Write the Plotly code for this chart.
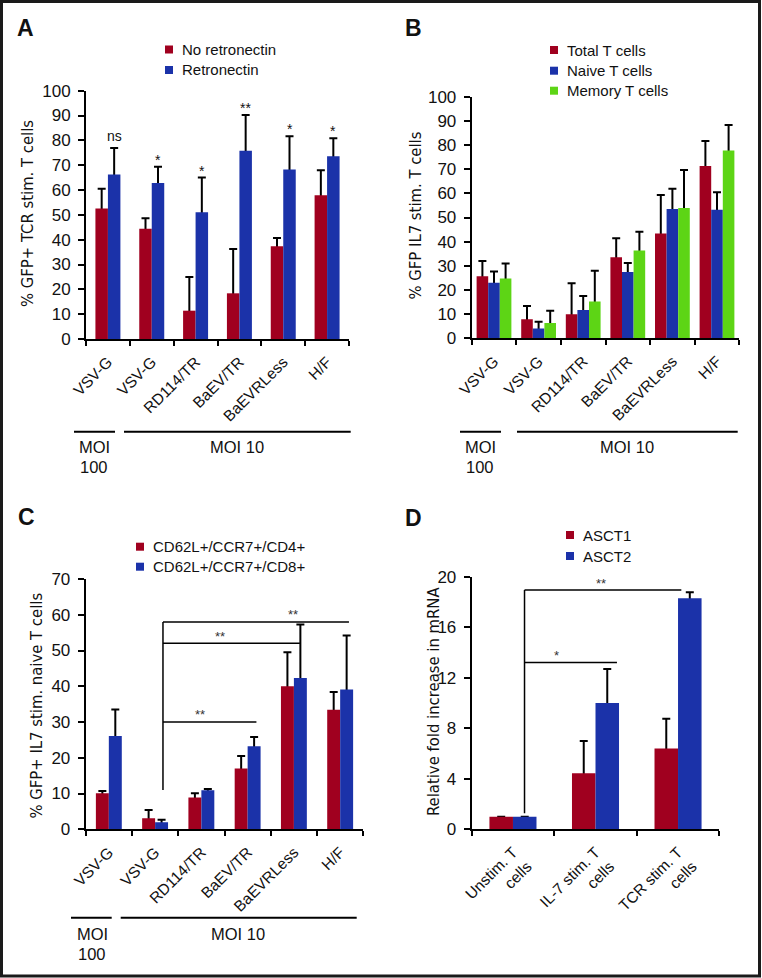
import plotly.graph_objects as go

W, H = 762, 978


def px(x):
    return x / W


def py(y):
    return 1 - y / H


RED, BLUE, GREEN = "#A0001F", "#1B32A9", "#5DD515"
TEXT = "#111111"
FONT = "Liberation Sans, Arial, Helvetica, sans-serif"
NARROW = "Liberation Sans Narrow, Arial Narrow, DejaVu Sans Condensed, sans-serif"

# ---------------- data ----------------
vector_labels = ["VSV-G", "VSV-G", "RD114/TR", "BaEV/TR", "BaEVRLess", "H/F"]

# Panel A: % GFP+ TCR stim. T cells
a_no_retro = [52.6, 44.4, 11.4, 18.4, 37.4, 57.9]
a_no_retro_sd = [7.9, 4.2, 13.6, 17.8, 3.3, 10.1]
a_retro = [66.3, 62.8, 51.0, 75.8, 68.3, 73.6]
a_retro_sd = [10.6, 6.6, 14.0, 14.4, 13.4, 7.2]
a_sig = ["ns", "*", "*", "**", "*", "*"]

# Panel B: % GFP IL7 stim. T cells
b_total = [25.7, 7.9, 10.0, 33.5, 43.4, 71.3]
b_total_sd = [6.3, 5.5, 12.8, 7.9, 15.9, 10.4]
b_naive = [23.0, 4.1, 11.7, 27.4, 53.5, 53.2]
b_naive_sd = [4.6, 2.8, 5.8, 3.8, 8.4, 7.2]
b_memory = [24.8, 6.3, 15.2, 36.3, 53.9, 77.7]
b_memory_sd = [6.2, 5.1, 12.8, 7.8, 15.8, 10.6]

# Panel C: % GFP+ IL7 stim. naive T cells
c_cd4 = [10.1, 3.1, 8.9, 17.0, 40.0, 33.4]
c_cd4_sd = [0.6, 2.3, 1.2, 3.5, 9.5, 5.0]
c_cd8 = [26.1, 2.0, 10.9, 23.2, 42.3, 39.1]
c_cd8_sd = [7.4, 0.7, 0.4, 2.6, 15.0, 15.1]

# Panel D: relative fold increase in mRNA
d_labels = ["Unstim. T<br>cells", "IL-7 stim. T<br>cells", "TCR stim. T<br>cells"]
d_asct1 = [1.0, 4.43, 6.4]
d_asct1_sd = [None, 2.57, 2.36]
d_asct2 = [1.0, 10.0, 18.3]
d_asct2_sd = [None, 2.7, 0.46]

fig = go.Figure()


def add_panel(xa, ya, series, width):
    n = len(series[0][1])
    xs = list(range(n))
    # error bars first (transparent bars), so the coloured bars hide the lower whisker
    for name, vals, sd, color, off in series:
        minus = [v if s is not None else None for v, s in zip(vals, sd)]
        fig.add_trace(go.Bar(
            x=xs, y=vals, width=width, offset=off, xaxis=xa, yaxis=ya,
            marker=dict(color="rgba(0,0,0,0)", line=dict(width=0)),
            error_y=dict(type="data", symmetric=False, array=sd, arrayminus=minus,
                         color="black", thickness=2, width=4),
            showlegend=False, hoverinfo="skip", name=name + " (SD)"))
    for name, vals, sd, color, off in series:
        fig.add_trace(go.Bar(
            x=xs, y=vals, width=width, offset=off, xaxis=xa, yaxis=ya,
            marker=dict(color=color, line=dict(width=0)),
            showlegend=False, name=name))


add_panel("x", "y", [("No retronectin", a_no_retro, a_no_retro_sd, RED, -0.285),
                     ("Retronectin", a_retro, a_retro_sd, BLUE, 0.0)], 0.285)
add_panel("x2", "y2", [("Total T cells", b_total, b_total_sd, RED, -0.39),
                       ("Naive T cells", b_naive, b_naive_sd, BLUE, -0.13),
                       ("Memory T cells", b_memory, b_memory_sd, GREEN, 0.13)], 0.26)
add_panel("x3", "y3", [("CD62L+/CCR7+/CD4+", c_cd4, c_cd4_sd, RED, -0.28),
                       ("CD62L+/CCR7+/CD8+", c_cd8, c_cd8_sd, BLUE, 0.0)], 0.28)
add_panel("x4", "y4", [("ASCT1", d_asct1, d_asct1_sd, RED, -0.285),
                       ("ASCT2", d_asct2, d_asct2_sd, BLUE, 0.0)], 0.285)


def xaxis(x0, x1, labels, anchor):
    n = len(labels)
    return dict(domain=[px(x0), px(x1)], anchor=anchor, range=[-0.5, n - 0.5],
                automargin=False,
                tickmode="array", tickvals=list(range(n)), ticktext=labels,
                ticks="", tickangle=-45, ticklabelstandoff=6,
                tickfont=dict(size=15.5, color=TEXT, family=FONT),
                minor=dict(tickmode="array", tickvals=[i - 0.5 for i in range(n + 1)],
                           ticks="outside", ticklen=5, tickwidth=2, tickcolor="black"),
                showline=True, linecolor="black", linewidth=2,
                showgrid=False, zeroline=False, fixedrange=True)


def yaxis(top, bottom, rng, dtick, anchor):
    return dict(domain=[py(bottom), py(top)], anchor=anchor, range=rng, dtick=dtick,
                automargin=False,
                tick0=0, ticks="outside", ticklen=6, tickwidth=2, tickcolor="black",
                ticklabelstandoff=4, tickfont=dict(size=17, color=TEXT, family=FONT),
                showline=True, linecolor="black", linewidth=2,
                showgrid=False, zeroline=False, fixedrange=True)


fig.update_layout(
    template="none",
    width=W, height=H, margin=dict(l=0, r=0, t=0, b=0, autoexpand=False),
    paper_bgcolor="white", plot_bgcolor="white",
    barmode="overlay", showlegend=False,
    font=dict(family=FONT, color=TEXT, size=15),
    xaxis=xaxis(86, 349, vector_labels, "y"),
    yaxis=yaxis(90.7, 339, [0, 100], 10, "x"),
    xaxis2=xaxis(471.7, 739.3, vector_labels, "y2"),
    yaxis2=yaxis(96.7, 338.3, [0, 100], 10, "x2"),
    xaxis3=xaxis(85.7, 363.3, vector_labels, "y3"),
    yaxis3=yaxis(579, 829.3, [0, 70], 10, "x3"),
    xaxis4=xaxis(471.7, 719.3, d_labels, "y4"),
    yaxis4=yaxis(576.7, 829.3, [0, 20], 4, "x4"),
)

shapes = []
ann = []

# outer frame
shapes.append(dict(type="rect", xref="paper", yref="paper", x0=px(1.5), x1=px(759.5),
                   y0=py(976), y1=py(1.5), line=dict(color="#1a1a1a", width=3)))


def paper_text(x, y, text, size=15, family=FONT, angle=0, xanchor="center"):
    ann.append(dict(xref="paper", yref="paper", x=px(x), y=py(y), text=text, showarrow=False,
                    xanchor=xanchor, yanchor="middle", textangle=angle,
                    font=dict(size=size, family=family, color=TEXT)))


def legend(x, ys, items):
    for (name, color), y in zip(items, ys):
        shapes.append(dict(type="rect", xref="paper", yref="paper", x0=px(x - 4), x1=px(x + 4),
                           y0=py(y + 4), y1=py(y - 4), fillcolor=color, line=dict(width=0)))
        paper_text(x + 11, y, name, xanchor="left")


# panel letters
paper_text(25, 28, "<b>A</b>", size=23)
paper_text(413, 28.5, "<b>B</b>", size=23)
paper_text(26, 517, "<b>C</b>", size=23)
paper_text(413, 518, "<b>D</b>", size=23)

# legends
legend(169, [49.5, 70], [("No retronectin", RED), ("Retronectin", BLUE)])
legend(554, [50, 70.7, 90.7], [("Total T cells", RED), ("Naive T cells", BLUE), ("Memory T cells", GREEN)])
legend(140, [546.7, 566.7], [("CD62L+/CCR7+/CD4+", RED), ("CD62L+/CCR7+/CD8+", BLUE)])
legend(570, [535, 556], [("ASCT1", RED), ("ASCT2", BLUE)])

# y-axis titles
paper_text(27, 214, "% GFP+ TCR stim. T cells", size=16.5, family=NARROW, angle=-90)
paper_text(414.5, 216, "% GFP IL7 stim. T cells", size=16.5, family=NARROW, angle=-90)
paper_text(35.5, 706, "% GFP+ IL7 stim. naive T cells", size=16.5, family=NARROW, angle=-90)
paper_text(433, 702, "Relative fold increase in mRNA", size=16.5, family=NARROW, angle=-90)


# MOI group lines and labels
def moi(y_line, short, long, y_text, moi100_x, moi10_x):
    for x0, x1 in (short, long):
        shapes.append(dict(type="line", xref="paper", yref="paper", x0=px(x0), x1=px(x1),
                           y0=py(y_line), y1=py(y_line), line=dict(color="black", width=2)))
    paper_text(moi100_x, y_text, "MOI", size=16.5)
    paper_text(moi100_x, y_text + 20, "100", size=16.5)
    paper_text(moi10_x, y_text, "MOI 10", size=16.5)


moi(431.7, (74, 115), (124, 350.7), 447, 94, 237)
moi(431.7, (460, 501), (517, 737.7), 447, 480, 627)
moi(917.7, (71, 111.7), (120.7, 356.7), 934, 92, 238)

# significance above blue bars in A
for i, s in enumerate(a_sig):
    ann.append(dict(xref="x", yref="y", x=i + 0.1425, y=a_retro[i] + a_retro_sd[i], text=s,
                    showarrow=False, yanchor="bottom", yshift=(2 if s == "ns" else -3),
                    font=dict(size=14, family=FONT, color=TEXT)))


def bracket(xa, ya, x0, x1, y, label, lx, ly):
    shapes.append(dict(type="line", xref=xa, yref=ya, x0=x0, x1=x1, y0=y, y1=y,
                       line=dict(color="black", width=1.5)))
    ann.append(dict(xref=xa, yref=ya, x=lx, y=ly, text=label, showarrow=False,
                    yanchor="middle", yshift=-2, font=dict(size=13, family=FONT, color="#333")))


# C brackets (from VSV-G MOI 10)
shapes.append(dict(type="line", xref="x3", yref="y3", x0=1.17, x1=1.17, y0=11, y1=58,
                   line=dict(color="black", width=1.5)))
bracket("x3", "y3", 1.17, 3.19, 30, "**", 1.97, 32.7)
bracket("x3", "y3", 1.17, 4.13, 52, "**", 2.4, 54.5)
bracket("x3", "y3", 1.17, 5.19, 58, "**", 3.98, 60.7)

# D brackets (from unstimulated)
shapes.append(dict(type="line", xref="x4", yref="y4", x0=0.14, x1=0.14, y0=1.27, y1=18.94,
                   line=dict(color="black", width=1.5)))
bracket("x4", "y4", 0.14, 2.04, 18.94, "**", 1.07, 19.6)
bracket("x4", "y4", 0.14, 1.26, 13.2, "*", 0.53, 13.9)

fig.update_layout(shapes=shapes, annotations=ann)
fig.write_html("out.html", config={"displayModeBar": False},
               post_script="document.body.style.margin='0';document.body.style.overflow='hidden';")
